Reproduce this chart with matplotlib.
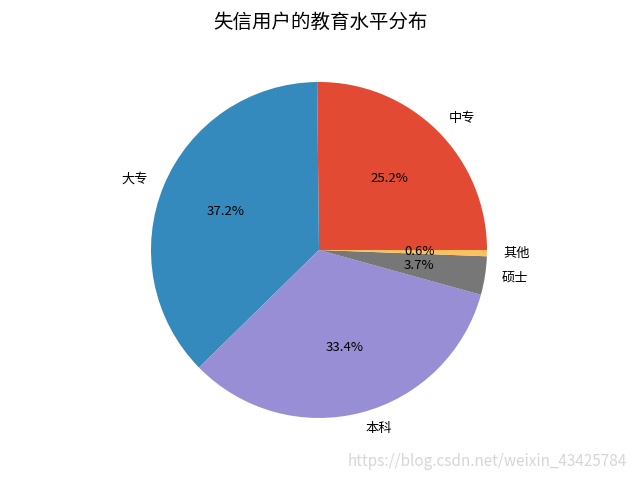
import matplotlib.pyplot as plt

plt.style.use('ggplot')
plt.rcParams['font.family'] = ['Noto Sans CJK SC', 'DejaVu Sans']
plt.rcParams['axes.unicode_minus'] = False

# 教育水平及占比
edu_labels = ['中专', '大专', '本科', '硕士', '其他']
edu_pct = [25.2, 37.2, 33.4, 3.7, 0.6]

fig = plt.figure(figsize=(6.4, 4.8), dpi=100)
ax = fig.add_axes([0.1703, 0.0417, 0.65625, 0.875])
ax.pie(edu_pct, labels=edu_labels, autopct='%.1f%%', startangle=0,
       textprops={'fontsize': 9.5})
ax.set_xlim(-1.25, 1.25)
ax.set_ylim(-1.25, 1.25)
ax.set_aspect('equal')
fig.suptitle('失信用户的教育水平分布', fontsize=14, y=0.975)

fig.text(0.98, 0.02, 'https://blog.csdn.net/weixin_43425784', ha='right',
         va='bottom', color='#cccccc', fontsize=11, alpha=0.8)

fig.savefig('out.png')
